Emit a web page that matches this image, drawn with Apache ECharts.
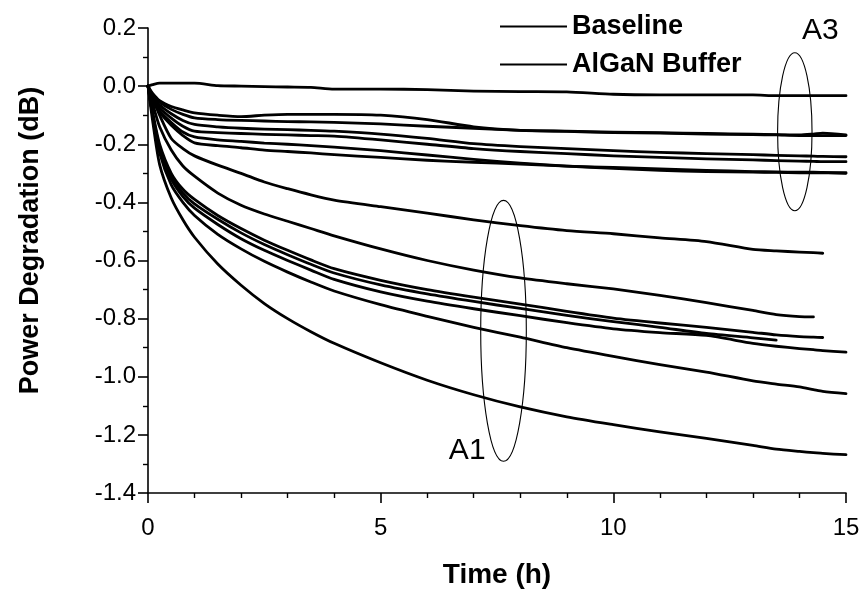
<!DOCTYPE html>
<html>
<head>
<meta charset="utf-8">
<script src="https://cdn.jsdelivr.net/npm/echarts@6/dist/echarts.min.js"></script>
<style>
  html, body { margin: 0; padding: 0; background: #fff; }
  #chart { width: 865px; height: 595px; }
</style>
</head>
<body>
<div id="chart"></div>
<script>
// Stress time in hours, shared sampling grid for every trace
const hours = [0, 0.1, 0.25, 0.5, 0.75, 1, 1.5, 2, 2.5, 3, 3.5, 4, 5, 6, 7, 8, 9, 10, 11, 12, 13, 13.5, 14, 14.3, 14.5, 15];

// AlGaN buffer devices (upper bundle, A3 wafer), power change in dB
const bufTop = [0, 0.005, 0.01, 0.01, 0.01, 0.01, 0.002, 0.0, -0.002, -0.003, -0.004, -0.01, -0.01, -0.012, -0.017, -0.019, -0.02, -0.028, -0.03, -0.03, -0.03, -0.033, -0.033, -0.033, -0.033, -0.033];
const bufU1 = [0, -0.025, -0.05, -0.07, -0.082, -0.092, -0.1, -0.105, -0.1, -0.097, -0.097, -0.097, -0.1, -0.115, -0.14, -0.152, -0.155, -0.158, -0.16, -0.163, -0.165, -0.167, -0.168, -0.165, -0.162, -0.168];
const bufU2 = [0, -0.03, -0.055, -0.08, -0.097, -0.109, -0.115, -0.118, -0.12, -0.122, -0.123, -0.125, -0.13, -0.138, -0.145, -0.152, -0.156, -0.16, -0.162, -0.165, -0.167, -0.168, -0.17, -0.17, -0.17, -0.17];
const bufU3 = [0, -0.035, -0.065, -0.095, -0.118, -0.132, -0.14, -0.145, -0.148, -0.15, -0.152, -0.155, -0.165, -0.18, -0.198, -0.208, -0.215, -0.222, -0.228, -0.232, -0.236, -0.238, -0.24, -0.241, -0.242, -0.243];
const bufU4 = [0, -0.04, -0.075, -0.11, -0.138, -0.155, -0.16, -0.163, -0.166, -0.168, -0.17, -0.172, -0.185, -0.2, -0.215, -0.225, -0.232, -0.24, -0.245, -0.25, -0.254, -0.256, -0.258, -0.259, -0.26, -0.26];
const bufU5 = [0, -0.045, -0.085, -0.125, -0.158, -0.175, -0.185, -0.19, -0.196, -0.2, -0.205, -0.21, -0.222, -0.237, -0.252, -0.265, -0.275, -0.283, -0.29, -0.294, -0.296, -0.297, -0.298, -0.298, -0.298, -0.298];
const bufU6 = [0, -0.05, -0.09, -0.135, -0.17, -0.195, -0.205, -0.212, -0.22, -0.225, -0.23, -0.236, -0.245, -0.255, -0.262, -0.268, -0.275, -0.28, -0.285, -0.29, -0.294, -0.295, -0.296, -0.296, -0.297, -0.3];

// Baseline devices (lower bundle, A1 wafer); null where a trace stops early
const baseL1 = [0, -0.04, -0.1, -0.18, -0.215, -0.24, -0.272, -0.3, -0.33, -0.353, -0.374, -0.392, -0.415, -0.437, -0.46, -0.48, -0.497, -0.508, -0.522, -0.535, -0.562, -0.567, -0.571, -0.573, -0.575, null];
const baseL2 = [0, -0.06, -0.14, -0.22, -0.275, -0.31, -0.368, -0.41, -0.44, -0.465, -0.49, -0.515, -0.56, -0.6, -0.633, -0.66, -0.68, -0.698, -0.72, -0.745, -0.772, -0.786, -0.793, -0.794, null, null];
const baseL3 = [0, -0.09, -0.2, -0.3, -0.355, -0.39, -0.445, -0.49, -0.53, -0.565, -0.598, -0.628, -0.668, -0.7, -0.726, -0.75, -0.775, -0.798, -0.815, -0.83, -0.847, -0.856, -0.862, -0.864, -0.865, null];
const baseL4 = [0, -0.095, -0.21, -0.31, -0.368, -0.405, -0.458, -0.505, -0.545, -0.58, -0.613, -0.643, -0.684, -0.715, -0.741, -0.765, -0.789, -0.81, -0.83, -0.851, -0.866, -0.874, null, null, null, null];
const baseL5 = [0, -0.1, -0.22, -0.32, -0.38, -0.42, -0.476, -0.525, -0.565, -0.6, -0.633, -0.665, -0.708, -0.74, -0.766, -0.79, -0.814, -0.835, -0.848, -0.858, -0.885, -0.895, -0.903, -0.907, -0.91, -0.915];
const baseL6 = [0, -0.1, -0.23, -0.34, -0.4, -0.445, -0.51, -0.56, -0.603, -0.64, -0.674, -0.705, -0.752, -0.792, -0.83, -0.864, -0.9, -0.93, -0.958, -0.984, -1.014, -1.025, -1.035, -1.044, -1.05, -1.058];
const baseL7 = [0, -0.12, -0.27, -0.385, -0.46, -0.52, -0.612, -0.685, -0.748, -0.8, -0.845, -0.885, -0.952, -1.012, -1.062, -1.104, -1.138, -1.165, -1.19, -1.212, -1.236, -1.249, -1.257, -1.261, -1.264, -1.268];

// Group outlines: name, centre (h, dB), half-width (h), half-height (dB)
const ringNames = ['A1', 'A3'];
const ringCentres = [[7.64, -0.842], [13.9, -0.157]];
const ringHalfSpans = [[0.49, 0.449], [0.37, 0.272]];
// Anchor of each group label (h, dB)
const ringLabelAt = [[6.86, -1.256], [14.45, 0.19]];

const legendNames = ['Baseline', 'AlGaN Buffer'];
const yTicks = { min: -1.4, max: 0.2, step: 0.2 };
const xTicks = { min: 0, max: 15, step: 5 };

const FONT = 'Liberation Sans, Arial, Helvetica, sans-serif';

function pairs(vals) {
  return hours.map((h, i) => [h, vals[i]]);
}

function trace(name, vals) {
  return {
    name: name,
    type: 'line',
    data: pairs(vals),
    showSymbol: false,
    symbol: 'none',
    smooth: 0.25,
    connectNulls: false,
    lineStyle: { color: '#000', width: 2.8, join: 'round', cap: 'round' },
    itemStyle: { color: '#000' },
    emphasis: { disabled: true },
    silent: true,
    z: 3
  };
}

const series = [
  trace('AlGaN Buffer', bufTop),
  trace('AlGaN Buffer', bufU1),
  trace('AlGaN Buffer', bufU2),
  trace('AlGaN Buffer', bufU3),
  trace('AlGaN Buffer', bufU4),
  trace('AlGaN Buffer', bufU5),
  trace('AlGaN Buffer', bufU6),
  trace('Baseline', baseL1),
  trace('Baseline', baseL2),
  trace('Baseline', baseL3),
  trace('Baseline', baseL4),
  trace('Baseline', baseL5),
  trace('Baseline', baseL6),
  trace('Baseline', baseL7),
  {
    name: 'rings',
    type: 'custom',
    silent: true,
    z: 4,
    data: ringCentres.map((c, i) => [c[0], c[1], ringHalfSpans[i][0], ringHalfSpans[i][1], ringLabelAt[i][0], ringLabelAt[i][1]]),
    renderItem: function (params, api) {
      const c = api.coord([api.value(0), api.value(1)]);
      const s = api.size([api.value(2), api.value(3)]);
      const t = api.coord([api.value(4), api.value(5)]);
      return {
        type: 'group',
        children: [
          {
            type: 'ellipse',
            shape: { cx: c[0], cy: c[1], rx: s[0], ry: s[1] },
            style: { fill: 'none', stroke: '#000', lineWidth: 1.1 }
          },
          {
            type: 'text',
            x: t[0], y: t[1],
            style: {
              text: ringNames[params.dataIndex],
              fill: '#000',
              font: '30px ' + FONT,
              align: 'center',
              verticalAlign: 'middle'
            }
          }
        ]
      };
    }
  }
];

const chart = echarts.init(document.getElementById('chart'), null, { renderer: 'canvas' });
chart.setOption({
  animation: false,
  backgroundColor: '#fff',
  textStyle: { fontFamily: FONT, color: '#000' },
  grid: { left: 148, right: 19, top: 28, bottom: 102, containLabel: false },
  legend: {
    data: legendNames,
    orient: 'vertical',
    left: 495,
    top: 8,
    itemWidth: 67,
    itemHeight: 2,
    itemGap: 11,
    icon: 'rect',
    selectedMode: false,
    textStyle: { fontSize: 27, fontWeight: 'bold', color: '#000', fontFamily: FONT }
  },
  xAxis: {
    type: 'value',
    min: xTicks.min, max: xTicks.max, interval: xTicks.step,
    name: 'Time (h)',
    nameLocation: 'middle',
    nameGap: 68,
    nameTextStyle: { fontSize: 28, fontWeight: 'bold', color: '#000', fontFamily: FONT },
    axisLine: { show: true, onZero: false, lineStyle: { color: '#000', width: 1.6 } },
    axisTick: { show: true, inside: false, length: 10, lineStyle: { color: '#000', width: 1.6 } },
    minorTick: { show: true, splitNumber: 5, length: 5, lineStyle: { color: '#000', width: 1.4 } },
    axisLabel: { fontSize: 24, color: '#000', margin: 23, fontFamily: FONT },
    splitLine: { show: false }
  },
  yAxis: {
    type: 'value',
    min: yTicks.min, max: yTicks.max, interval: yTicks.step,
    name: 'Power Degradation (dB)',
    nameLocation: 'middle',
    nameRotate: 90,
    nameGap: 104,
    nameTextStyle: {
      fontSize: 27, fontWeight: 'bold', color: '#000', fontFamily: FONT,
      padding: [0, 0, 0, 40]
    },
    axisLine: { show: true, onZero: false, lineStyle: { color: '#000', width: 1.6 } },
    axisTick: { show: true, inside: false, length: 10, lineStyle: { color: '#000', width: 1.6 } },
    minorTick: { show: true, splitNumber: 2, length: 5, lineStyle: { color: '#000', width: 1.4 } },
    axisLabel: {
      fontSize: 24, color: '#000', margin: 12, fontFamily: FONT,
      formatter: v => (Math.abs(v) < 1e-9 ? '0.0' : v.toFixed(1))
    },
    splitLine: { show: false }
  },
  series: series
});
</script>
</body>
</html>
